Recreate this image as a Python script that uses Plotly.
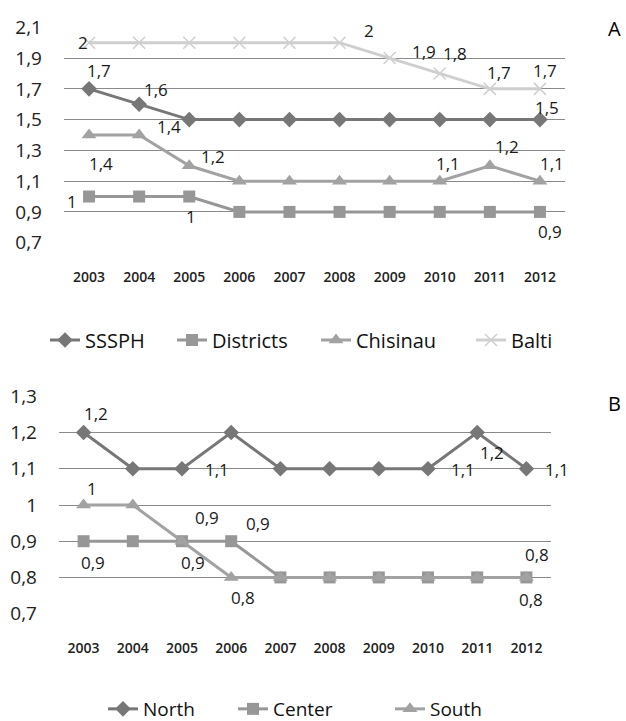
import plotly.graph_objects as go

years = ["2003", "2004", "2005", "2006", "2007", "2008", "2009", "2010", "2011", "2012"]

# Panel A
sssph = [1.7, 1.6, 1.5, 1.5, 1.5, 1.5, 1.5, 1.5, 1.5, 1.5]
districts = [1.0, 1.0, 1.0, 0.9, 0.9, 0.9, 0.9, 0.9, 0.9, 0.9]
chisinau = [1.4, 1.4, 1.2, 1.1, 1.1, 1.1, 1.1, 1.1, 1.2, 1.1]
balti = [2.0, 2.0, 2.0, 2.0, 2.0, 2.0, 1.9, 1.8, 1.7, 1.7]
a_ticks = [0.7, 0.9, 1.1, 1.3, 1.5, 1.7, 1.9, 2.1]
a_ticktext = ["0,7", "0,9", "1,1", "1,3", "1,5", "1,7", "1,9", "2,1"]

# Panel B
north = [1.2, 1.1, 1.1, 1.2, 1.1, 1.1, 1.1, 1.1, 1.2, 1.1]
center = [0.9, 0.9, 0.9, 0.9, 0.8, 0.8, 0.8, 0.8, 0.8, 0.8]
south = [1.0, 1.0, 0.9, 0.8, 0.8, 0.8, 0.8, 0.8, 0.8, 0.8]
b_ticks = [0.7, 0.8, 0.9, 1.0, 1.1, 1.2, 1.3]
b_ticktext = ["0,7", "0,8", "0,9", "1", "1,1", "1,2", "1,3"]

# label placement (index, xshift, yshift) -- style only
lab_sssph = [(0, 10, 18), (1, 17, 15), (9, 7, 12)]
lab_districts = [(0, -17, -5), (2, 2, -20), (9, 10, -20)]
lab_chisinau = [(0, 12, -28), (1, 30, 9), (2, 24, 9), (7, 8, 18), (8, 17, 19), (9, 12, 18)]
lab_balti = [(0, -6, 0), (5, 29, 12), (6, 34, 7), (7, 15, 20), (8, 9, 16), (9, 5, 18)]
lab_north = [(0, 12, 19), (2, 35, -1), (7, 35, -1), (8, 15, -20), (9, 31, -1)]
lab_center = [(0, 9, -21), (2, 11, -21), (3, 27, 18), (9, 11, 23)]
lab_south = [(0, 8, 17), (2, 25, 24), (3, 12, -20), (9, 5, -22)]

FONT = "Open Sans"
W, H = 626, 721
xpos = list(range(len(years)))


def fmt(v):
    s = ("%.1f" % v).replace(".", ",")
    if s.endswith(",0"):
        s = s[:-2]
    return s


fig = go.Figure()


def add_series(name, vals, color, symbol, msize, xa, ya, legend, lw, mline=None):
    marker = dict(symbol=symbol, size=msize, color=color)
    if mline:
        marker["line"] = dict(width=mline, color=color)
    fig.add_trace(go.Scatter(
        x=xpos, y=vals, name=name, mode="lines+markers",
        line=dict(color=color, width=3), marker=marker,
        xaxis=xa, yaxis=ya, legend=legend, legendwidth=lw, cliponaxis=False))


add_series("SSSPH", sssph, "#777777", "diamond", 12, "x", "y", "legend", 82)
add_series("Districts", districts, "#979797", "square", 12, "x", "y", "legend", 99)
add_series("Chisinau", chisinau, "#a2a2a2", "triangle-up", 13, "x", "y", "legend", 110)
add_series("Balti", balti, "#cfcfcf", "x-thin", 12, "x", "y", "legend", 60, mline=1.5)

add_series("North", north, "#777777", "diamond", 12, "x2", "y2", "legend2", 85)
add_series("Center", center, "#979797", "square", 12, "x2", "y2", "legend2", 112)
add_series("South", south, "#a2a2a2", "triangle-up", 13, "x2", "y2", "legend2", 70)

annotations = []


def add_labels(vals, specs, xr, yr):
    for i, dx, dy in specs:
        annotations.append(dict(
            x=xpos[i], y=vals[i], xref=xr, yref=yr, text=fmt(vals[i]),
            showarrow=False, xshift=dx, yshift=dy, xanchor="center", yanchor="middle",
            font=dict(family=FONT, size=17, color="#1a1a1a")))


add_labels(sssph, lab_sssph, "x", "y")
add_labels(districts, lab_districts, "x", "y")
add_labels(chisinau, lab_chisinau, "x", "y")
add_labels(balti, lab_balti, "x", "y")
add_labels(north, lab_north, "x2", "y2")
add_labels(center, lab_center, "x2", "y2")
add_labels(south, lab_south, "x2", "y2")

annotations.append(dict(x=614 / W, y=1 - 29 / H, xref="paper", yref="paper", text="A",
                        xanchor="center", yanchor="middle", showarrow=False,
                        font=dict(family=FONT, size=20, color="#000")))
annotations.append(dict(x=614 / W, y=1 - 403 / H, xref="paper", yref="paper", text="B",
                        xanchor="center", yanchor="middle", showarrow=False,
                        font=dict(family=FONT, size=20, color="#000")))

xcommon = dict(showgrid=False, zeroline=False, showline=False,
               tickvals=xpos, ticktext=years,
               ticks="", tickfont=dict(family=FONT, size=14, color="#222", weight=600),
               ticklabelstandoff=24, range=[-0.5, 9.5], fixedrange=True)
ycommon = dict(showgrid=True, gridcolor="#8a8a8a", gridwidth=1, zeroline=False,
               showline=False, ticks="", tickfont=dict(family=FONT, size=19, color="#222"),
               ticklabelstandoff=21, fixedrange=True)

fig.update_layout(
    width=W, height=H, margin=dict(l=0, r=0, t=0, b=0, autoexpand=False),
    paper_bgcolor="white", plot_bgcolor="white",
    font=dict(family=FONT),
    xaxis=dict(domain=[64 / W, 565 / W], anchor="y", **xcommon),
    yaxis=dict(domain=[1 - 243 / H, 1 - 27 / H], anchor="x", range=[0.698, 2.102],
               tickvals=a_ticks, ticktext=a_ticktext, **ycommon),
    xaxis2=dict(domain=[59 / W, 551 / W], anchor="y2", **xcommon),
    yaxis2=dict(domain=[1 - 614 / H, 1 - 396 / H], anchor="x2", range=[0.699, 1.301],
                tickvals=b_ticks, ticktext=b_ticktext, **ycommon),
    legend=dict(orientation="h", x=45 / W, xanchor="left", y=1 - 340 / H, yanchor="middle",
                font=dict(family=FONT, size=20, color="#111"), bgcolor="rgba(0,0,0,0)"),
    legend2=dict(orientation="h", x=103 / W, xanchor="left", y=1 - 709 / H, yanchor="middle",
                 font=dict(family=FONT, size=19, color="#111"), bgcolor="rgba(0,0,0,0)"),
    annotations=annotations,
    showlegend=True,
)

fig.write_html(
    "out.html",
    config={"displayModeBar": False},
    post_script="document.body.style.margin='0';document.body.style.overflow='hidden';",
)
